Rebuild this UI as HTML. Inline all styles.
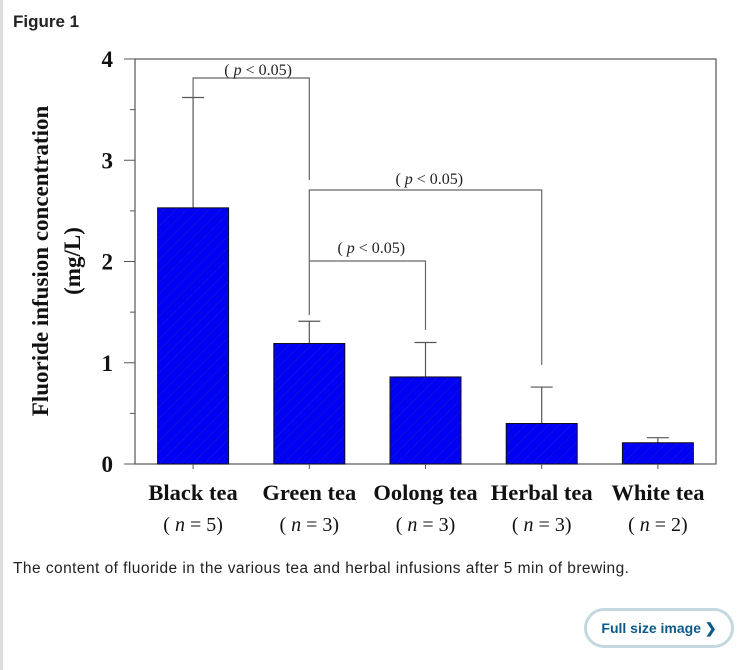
<!DOCTYPE html>
<html><head><meta charset="utf-8"><style>
body{margin:0;width:750px;height:670px;background:#fff;position:relative;overflow:hidden;font-family:"Liberation Sans",sans-serif}
#border{position:absolute;left:0;top:0;width:3px;height:670px;background:#ddd}
#title{position:absolute;left:13px;top:12px;font-weight:bold;font-size:17px;color:#222}
#cap{position:absolute;left:13px;top:560px;font-size:15.5px;letter-spacing:0.45px;color:#222}
#btn{position:absolute;left:584px;top:608px;width:150px;height:40px;border:3px solid #c5d8e2;border-radius:22px;box-sizing:border-box;color:#0b5a8c;font-weight:bold;font-size:14px;text-align:center;line-height:34px}
svg{position:absolute;left:0;top:0}
</style></head><body>
<div id="border"></div>
<div id="title">Figure 1</div>
<svg id="chart" width="750" height="560">
<defs><pattern id="hatch" width="8" height="8" patternUnits="userSpaceOnUse" patternTransform="rotate(45)"><rect width="8" height="8" fill="#0000f5"/><line x1="0" y1="0" x2="0" y2="8" stroke="#2626b0" stroke-width="0.8"/></pattern></defs>
</svg>
<div id="cap">The content of fluoride in the various tea and herbal infusions after 5 min of brewing.</div>
<div id="btn">Full size image ❯</div>
<script>
const categories=["Black tea","Green tea","Oolong tea","Herbal tea","White tea"];
const nLabels=["5","3","3","3","2"];
const means=[2.53,1.19,0.86,0.40,0.21];
const errTops=[3.62,1.41,1.20,0.76,0.26];
const yTicks=[0,1,2,3,4];
const svg=document.getElementById('chart');
const NS='http://www.w3.org/2000/svg';
const L=124,R=716,T=59,B=464,axisX=135;
const y=v=>B-(v/4)*(B-T);
const step=(R-axisX)/5;
const xc=i=>axisX+step*(i+0.5);
const bw=71;
function mk(tag,attrs,parent){const e=document.createElementNS(NS,tag);for(const k in attrs)e.setAttribute(k,attrs[k]);(parent||svg).appendChild(e);return e;}
const frame=mk('rect',{x:axisX,y:T,width:R-axisX,height:B-T,fill:'none',stroke:'#555','stroke-width':1.2});


yTicks.forEach(t=>{
  const ln=mk('line',{x1:L,y1:y(t),x2:axisX,y2:y(t),stroke:'#555'});
  
  
  if(t<4){const m=mk('line',{x1:axisX-5,y1:y(t+0.5),x2:axisX,y2:y(t+0.5),stroke:'#555'});
  
  }
  const tx=mk('text',{x:113,y:y(t)+8,'text-anchor':'end','font-family':'Liberation Serif, serif','font-weight':'bold','font-size':23,fill:'#111'});
  tx.textContent=t;
  
  
});
const yt=mk('text',{transform:'translate(52,261) rotate(-90)','text-anchor':'middle','font-family':'Liberation Serif, serif','font-weight':'bold','font-size':23,fill:'#111'});


yt.innerHTML='<tspan x="0" dy="-4">Fluoride infusion concentration</tspan><tspan x="0" dy="32">(mg/L)</tspan>';
categories.forEach((c,i)=>{
  const cx=xc(i);
  const eb=mk('line',{x1:cx,y1:y(means[i]),x2:cx,y2:y(errTops[i]),stroke:'#555','stroke-width':1.2});
  
  
  mk('line',{x1:cx-11,y1:y(errTops[i]),x2:cx+11,y2:y(errTops[i]),stroke:'#555','stroke-width':1.2});
  const b=mk('rect',{x:cx-bw/2,y:y(means[i]),width:bw,height:B-y(means[i]),fill:'url(#hatch)',stroke:'#111','stroke-width':1});
  
  
  mk('line',{x1:cx,y1:B,x2:cx,y2:B+5,stroke:'#555'});
  const lb=mk('text',{x:cx,y:500,'text-anchor':'middle','font-family':'Liberation Serif, serif','font-weight':'bold','font-size':22.5,fill:'#111'});
  lb.textContent=c;
  
  
  const nl=mk('text',{x:cx,y:531,'text-anchor':'middle','font-family':'Liberation Serif, serif','font-size':20,fill:'#111'});
  nl.innerHTML='( <tspan font-style="italic">n</tspan> = '+nLabels[i]+')';
  
  
});
function bracket(pts,lx,ly){
  const p=mk('polyline',{points:pts.map(q=>q.join(',')).join(' '),fill:'none',stroke:'#666','stroke-width':1.2});
  
  
  const t=mk('text',{x:lx,y:ly,'text-anchor':'middle','font-family':'Liberation Serif, serif','font-size':16,fill:'#222'});
  t.innerHTML='( <tspan font-style="italic">p</tspan> &lt; 0.05)';
  
  
}
bracket([[xc(0),y(errTops[0])],[xc(0),78],[xc(1),78],[xc(1),180]],xc(0)+65,75);
bracket([[xc(1),315],[xc(1),190],[xc(3),190],[xc(3),365]],xc(1)+120,184);
bracket([[xc(1),261],[xc(2),261],[xc(2),330]],xc(1)+62,253);
</script>
</body></html>
